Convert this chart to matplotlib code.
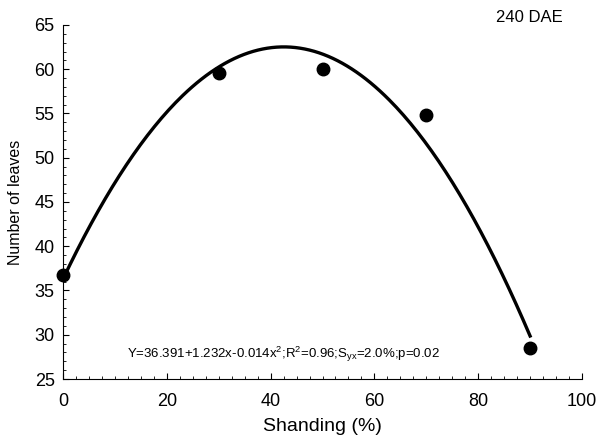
import matplotlib.pyplot as plt
import numpy as np
from matplotlib.ticker import MultipleLocator

# DADOS
sombreamento = [0, 30, 50, 70, 90]
folhas = [36.75, 59.6, 60.05, 54.8, 28.5]

plt.rcParams['font.family'] = ['Liberation Sans', 'DejaVu Sans']
plt.rcParams['mathtext.fontset'] = 'custom'
plt.rcParams['mathtext.rm'] = 'Liberation Sans'
plt.rcParams['mathtext.it'] = 'Liberation Sans:italic'

fig = plt.figure(figsize=(5.98, 4.4), dpi=100)
ax = fig.add_axes([63/598, 1-379/440, (582-63)/598, (379-25)/440])

# AJUSTE QUADRATICO DOS PONTOS
coef = np.polyfit(sombreamento, folhas, 2)
xs = np.linspace(0, 90, 200)
ax.plot(xs, np.polyval(coef, xs), color='black', lw=2.4, clip_on=False)
ax.plot(sombreamento, folhas, 'o', color='black', ms=9, clip_on=False)

ax.set_xlim(0, 100)
ax.set_ylim(25, 65)
ax.xaxis.set_major_locator(MultipleLocator(20))
ax.xaxis.set_minor_locator(MultipleLocator(2.5))
ax.yaxis.set_major_locator(MultipleLocator(5))
ax.yaxis.set_minor_locator(MultipleLocator(1))
ax.tick_params(which='both', direction='in', labelsize=13)
ax.tick_params(which='major', length=4)
ax.tick_params(which='minor', length=2)
ax.tick_params(axis='x', which='major', pad=10)
ax.tick_params(axis='y', which='major', pad=6)
ax.spines['top'].set_visible(False)
ax.spines['right'].set_visible(False)

ax.set_xlabel("Shanding (%)", fontsize=14, labelpad=6)
ax.set_ylabel("Number of leaves", fontsize=11.5, labelpad=8)

ax.text(0.124, 0.06, r"Y=36.391+1.232x-0.014x$^\mathrm{2}$;R$^\mathrm{2}$=0.96;S$_\mathrm{yx}$=2.0%;p=0.02",
        transform=ax.transAxes, fontsize=9.5)
fig.text(529/598, 1-18/440, "240 DAE", fontsize=12, ha='center', va='center')

plt.savefig("out.png", dpi=100)
